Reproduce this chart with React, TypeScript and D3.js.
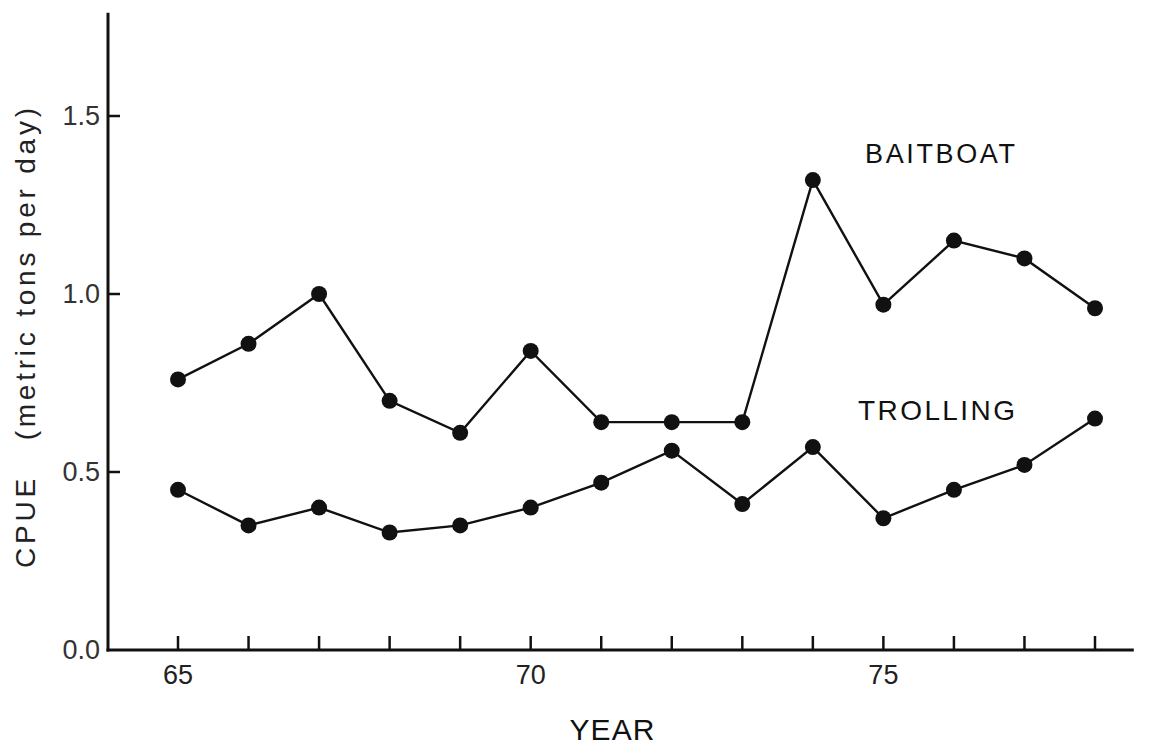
import React from "react";
import * as d3 from "d3";

const years = [65, 66, 67, 68, 69, 70, 71, 72, 73, 74, 75, 76, 77, 78];
const baitboat = [0.76, 0.86, 1.0, 0.7, 0.61, 0.84, 0.64, 0.64, 0.64, 1.32, 0.97, 1.15, 1.1, 0.96];
const trolling = [0.45, 0.35, 0.4, 0.33, 0.35, 0.4, 0.47, 0.56, 0.41, 0.57, 0.37, 0.45, 0.52, 0.65];
const yTicks = [0, 0.5, 1.0, 1.5];
const xLabelTicks = [65, 70, 75];

const W = 1163;
const H = 745;
const FONT = "'Liberation Sans', Arial, sans-serif";

export default function App() {
  const x = d3.scaleLinear().domain([65, 78]).range([178, 1095]);
  const y = d3.scaleLinear().domain([0, 1.5]).range([650, 116]);
  const axisX0 = 108;
  const yTop = y(1.79);
  const xEnd = x(78.55);

  const line = d3
    .line<number>()
    .x((_, i) => x(years[i]))
    .y((d) => y(d));

  const series = [baitboat, trolling];

  return (
    <svg
      width={W}
      height={H}
      style={{ position: "absolute", left: 0, top: 0, background: "#fff" }}
      fontFamily={FONT}
    >
      {/* axes */}
      <line x1={axisX0} y1={yTop} x2={axisX0} y2={y(0) + 1.5} stroke="#111" strokeWidth={3} />
      <line x1={axisX0 - 1.5} y1={y(0)} x2={xEnd} y2={y(0)} stroke="#111" strokeWidth={3} />
      {yTicks.map((t) => (
        <g key={"yt" + t}>
          {t > 0 && (
            <line x1={axisX0} x2={axisX0 + 12} y1={y(t)} y2={y(t)} stroke="#111" strokeWidth={2.5} />
          )}
          <text
            x={100}
            y={y(t)}
            textAnchor="end"
            dominantBaseline="central"
            fontSize={27}
            fill="#333"
          >
            {t.toFixed(1)}
          </text>
        </g>
      ))}
      {years.map((yr) => (
        <line key={"xt" + yr} x1={x(yr)} x2={x(yr)} y1={y(0)} y2={y(0) - 14} stroke="#111" strokeWidth={2.5} />
      ))}
      {xLabelTicks.map((yr) => (
        <text key={"xl" + yr} x={x(yr)} y={684} textAnchor="middle" fontSize={27} fill="#222">
          {yr}
        </text>
      ))}

      {/* titles */}
      <text x={612} y={740} textAnchor="middle" fontSize={30} fill="#111" textLength={85} lengthAdjust="spacing">
        YEAR
      </text>
      <text
        transform={`translate(35, ${(568 + 108) / 2}) rotate(-90)`}
        textAnchor="middle"
        fontSize={28}
        fill="#222"
        textLength={460}
        lengthAdjust="spacing"
        style={{ whiteSpace: "pre" }}
      >
        {"CPUE   (metric tons per day)"}
      </text>

      {/* series */}
      {series.map((s, si) => (
        <g key={"s" + si}>
          <path d={line(s) || ""} fill="none" stroke="#111" strokeWidth={2.4} />
          {s.map((v, i) => (
            <circle key={i} cx={x(years[i])} cy={y(v)} r={8} fill="#111" />
          ))}
        </g>
      ))}

      {/* labels */}
      <text x={865} y={163} fontSize={27} fill="#111" textLength={150} lengthAdjust="spacing">
        BAITBOAT
      </text>
      <text x={858} y={420} fontSize={28} fill="#111" textLength={157} lengthAdjust="spacing">
        TROLLING
      </text>
    </svg>
  );
}
